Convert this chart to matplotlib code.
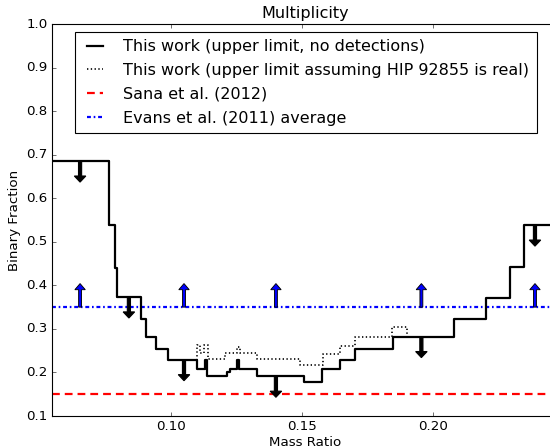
import numpy as np
import matplotlib
matplotlib.use('Agg')
import matplotlib.pyplot as plt

# step edges (mass ratio) and upper limits on the binary fraction
q_edges = [0.0542, 0.0762, 0.0784, 0.0790, 0.0883, 0.0902, 0.0941, 0.0988,
           0.1097, 0.1128, 0.1137, 0.1211, 0.1224, 0.1250, 0.1260, 0.1326,
           0.1507, 0.1575, 0.1645, 0.1702, 0.1849, 0.2081, 0.2206, 0.2298, 0.2350]
limit_nodet = [0.685, 0.538, 0.439, 0.373, 0.322, 0.282, 0.253, 0.229,
               0.208, 0.229, 0.191, 0.200, 0.208, 0.229, 0.208, 0.191,
               0.177, 0.208, 0.229, 0.253, 0.282, 0.322, 0.372, 0.441, 0.538]

q_edges_hip = [0.0542, 0.0762, 0.0784, 0.0790, 0.0883, 0.0902, 0.0941, 0.0988,
               0.1096, 0.1109, 0.1124, 0.1140, 0.1205, 0.1250, 0.1262, 0.1326,
               0.1493, 0.1580, 0.1645, 0.1702, 0.1843, 0.1902, 0.2081, 0.2206,
               0.2298, 0.2350]
limit_hip = [0.685, 0.538, 0.439, 0.373, 0.322, 0.282, 0.253, 0.229,
             0.263, 0.245, 0.263, 0.230, 0.245, 0.258, 0.245, 0.230,
             0.217, 0.242, 0.260, 0.281, 0.305, 0.282, 0.322, 0.372,
             0.441, 0.538]

q_max = 0.2484
sana_frac = 0.15
evans_frac = 0.35

# arrow positions
arrow_q = [0.0650, 0.0837, 0.1048, 0.1400, 0.1957, 0.2392]
evans_arrow_q = [0.0650, 0.1048, 0.1400, 0.1957, 0.2392]
arrow_len = 0.048

plt.style.use('classic')
plt.rcParams['figure.facecolor'] = 'white'
plt.rcParams['savefig.facecolor'] = 'white'
plt.rcParams['lines.scale_dashes'] = False

fig = plt.figure(figsize=(550 / 80, 448 / 80), dpi=80)
ax = fig.add_axes([52 / 550, 1 - 416 / 448, 507 / 550, 392 / 448])


def steps(edges, vals):
    x = list(edges) + [q_max]
    y = list(vals) + [vals[-1]]
    return x, y


x1, y1 = steps(q_edges_hip, limit_hip)
ax.step(x1, y1, where='post', color='k', lw=1.5, dashes=(1.2, 2.2),
        label='This work (upper limit assuming HIP 92855 is real)', zorder=2)
x0, y0 = steps(q_edges, limit_nodet)
ax.step(x0, y0, where='post', color='k', lw=2,
        label='This work (upper limit, no detections)', zorder=3)

ax.axhline(sana_frac, color='r', lw=2, dashes=(7, 4.5), label='Sana et al. (2012)')
ax.axhline(evans_frac, color='b', lw=2, dashes=(3.5, 2.5, 1.5, 2.5),
           label='Evans et al. (2011) average')

# upper limit arrows
for q in arrow_q:
    i = np.searchsorted(q_edges, q, side='right') - 1
    ax.arrow(q, limit_nodet[i], 0, -arrow_len, width=0.0012, head_width=0.0044,
             head_length=0.014, length_includes_head=True, fc='k', ec='k', zorder=4)

# Evans lower limits
for q in evans_arrow_q:
    ax.arrow(q, evans_frac, 0, 0.054, width=0.0011, head_width=0.0040,
             head_length=0.014, length_includes_head=True, fc='b', ec='k',
             lw=0.8, zorder=4)

ax.set_xlim(0.05425, q_max)
ax.set_ylim(0.1, 1.0)
ax.set_xticks([0.10, 0.15, 0.20])
ax.set_xticklabels(['0.10', '0.15', '0.20'])
ax.set_yticks(np.arange(0.1, 1.01, 0.1))
ax.set_yticklabels(['%.1f' % v for v in np.arange(0.1, 1.01, 0.1)])
ax.set_xlabel('Mass Ratio', labelpad=2)
ax.set_ylabel('Binary Fraction')
ax.set_title('Multiplicity')

h, l = ax.get_legend_handles_labels()
order = [1, 0, 2, 3]
ax.legend([h[i] for i in order], [l[i] for i in order], loc='upper center',
          handlelength=1.6, handletextpad=1.0, labelspacing=0.55, borderpad=0.45)

fig.savefig('out.png', dpi=80)
